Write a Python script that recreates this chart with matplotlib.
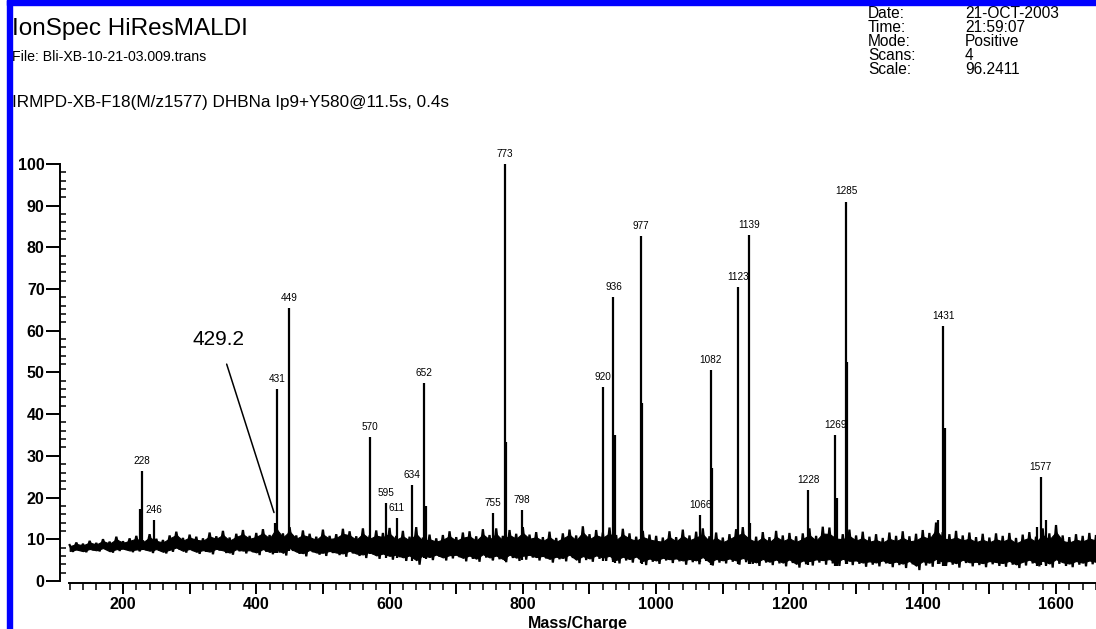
import matplotlib
matplotlib.use("Agg")
import matplotlib.pyplot as plt
import numpy as np
from matplotlib.ticker import FixedLocator, FuncFormatter
from matplotlib.patches import Rectangle

plt.rcParams['font.family'] = ['Liberation Sans', 'DejaVu Sans']

# labelled peaks (m/z, relative intensity %)
peak_mz = [228, 246, 431, 449, 570, 595, 611, 634, 652, 755, 773, 798,
           920, 936, 977, 1066, 1082, 1123, 1139, 1228, 1269, 1285, 1431, 1577]
peak_int = [26.4, 14.6, 46.0, 65.4, 34.5, 18.8, 15.0, 22.9, 47.5, 16.4, 100.0, 17.0,
            46.6, 68.2, 82.8, 15.8, 50.6, 70.6, 83.0, 21.7, 35.0, 91.0, 61.2, 24.9]

# unlabelled isotope shoulders / small spikes
side_mz = [226, 428, 654, 775, 938, 979, 1084, 1141, 1271, 1287, 1423, 1433, 1572, 1585]
side_int = [17.3, 14.0, 18.0, 33.4, 35.0, 42.7, 27.0, 14.0, 20.0, 52.6, 14.5, 36.7, 13.0, 14.5]

# noise band, every 10 m/z from 120 to 1660
noise_mz = list(range(120, 1661, 10))
noise_hi = [8.6, 9.2, 8.9, 9.6, 9.1, 10.0, 9.4, 10.6, 9.5, 10.2,
            10.8, 9.7, 11.2, 10.1, 9.8, 10.9, 11.8, 10.3, 11.1, 10.6,
            10.2, 11.6, 10.7, 12.0, 10.4, 11.3, 12.2, 10.8, 11.5, 12.4,
            11.0, 13.8, 11.4, 12.9, 10.9, 12.1, 11.3, 10.6, 12.3, 10.8,
            11.2, 12.5, 11.9, 10.7, 12.6, 10.9, 12.1, 11.5, 12.7, 10.8,
            12.0, 10.6, 12.9, 10.4, 11.1, 10.2, 11.0, 11.9, 10.5, 11.6,
            11.9, 10.7, 12.4, 11.0, 12.6, 10.8, 12.2, 11.3, 12.9, 11.1,
            11.7, 10.5, 11.8, 10.3, 11.4, 12.3, 10.9, 13.1, 11.2, 12.2,
            11.6, 12.8, 11.0, 12.5, 11.4, 10.6, 12.0, 11.1, 10.8, 10.4,
            11.9, 10.5, 12.3, 10.9, 11.8, 12.6, 10.7, 11.6, 10.4, 11.2,
            12.4, 12.9, 11.3, 10.6, 11.7, 10.5, 12.0, 10.9, 11.5, 10.7,
            11.4, 12.6, 10.8, 13.0, 12.8, 11.6, 11.2, 12.3, 10.9, 11.8,
            10.6, 11.2, 10.3, 11.6, 10.8, 11.9, 10.7, 11.3, 12.2, 11.5,
            14.0, 11.7, 11.2, 12.0, 10.9, 11.6, 10.5, 11.3, 10.4, 11.4,
            10.8, 11.5, 10.3, 11.1, 11.7, 10.6, 12.6, 11.4, 13.4, 10.9,
            10.5, 11.2, 10.8, 11.5, 11.0]
noise_lo = [7.0, 7.3, 6.9, 7.4, 7.1, 7.6, 6.8, 7.2, 7.5, 6.9,
            7.1, 7.4, 6.7, 7.3, 6.6, 7.0, 7.5, 6.8, 7.2, 6.5,
            7.0, 6.4, 7.3, 6.7, 6.3, 7.1, 6.6, 6.9, 6.2, 7.0,
            6.4, 6.8, 6.1, 7.2, 6.5, 5.9, 6.9, 6.3, 6.0, 6.7,
            6.2, 5.8, 6.6, 6.0, 5.5, 6.4, 5.3, 5.9, 5.1, 5.7,
            4.8, 5.5, 3.9, 5.6, 5.0, 5.8, 4.9, 5.4, 5.7, 4.7,
            5.3, 4.6, 5.6, 4.9, 5.2, 4.5, 5.5, 4.8, 5.1, 5.6,
            4.9, 5.4, 4.4, 5.2, 4.7, 5.5, 4.3, 5.0, 4.6, 5.3,
            4.8, 5.1, 4.2, 4.9, 4.4, 5.2, 3.8, 4.6, 4.1, 4.9,
            4.3, 4.7, 3.9, 4.5, 4.0, 4.8, 3.7, 4.4, 4.2, 4.6,
            3.9, 4.5, 4.1, 3.6, 4.4, 3.8, 4.2, 3.5, 4.3, 3.2,
            4.0, 3.7, 4.4, 3.9, 4.2, 3.6, 4.5, 3.8, 4.1, 3.4,
            3.9, 3.5, 4.2, 3.3, 3.8, 3.1, 4.0, 2.6, 3.7, 3.4,
            4.1, 3.6, 3.9, 3.2, 4.3, 3.5, 3.8, 3.3, 4.0, 3.6,
            3.4, 3.9, 3.1, 3.7, 4.2, 3.5, 3.8, 3.2, 4.1, 3.6,
            3.3, 3.9, 3.5, 4.0, 3.7]

header_keys = ["Date:", "Time:", "Mode:", "Scans:", "Scale:"]
header_vals = ["21-OCT-2003", "21:59:07", "Positive", "4", "96.2411"]

fig = plt.figure(figsize=(10.96, 6.29), dpi=100)
ax = fig.add_axes([60 / 1096, 46 / 629, 1036 / 1096, 435.7 / 629])

# noise trace: zigzag between the read envelope, plus a solid core
mz = np.array(noise_mz, dtype=float)
hi = np.array(noise_hi)
lo = np.array(noise_lo)
zx = np.ravel(np.column_stack([mz, mz + 5]))
zy = np.ravel(np.column_stack([hi, lo]))
ax.plot(zx, zy, color='black', lw=1.6, solid_joinstyle='miter')
span = hi - lo
ax.fill_between(mz, lo + 0.12 * span, hi - 0.18 * span, color='black', lw=0.8,
                edgecolor='black')

# peaks
base = np.interp(peak_mz, mz, lo)
ax.vlines(peak_mz, base, peak_int, color='black', lw=1.6)
ax.vlines(side_mz, np.interp(side_mz, mz, lo), side_int, color='black', lw=1.6)
for m, h in zip(peak_mz, peak_int):
    ax.text(m, h + 1.2, str(m), ha='center', va='bottom', fontsize=7.2)

ax.annotate("429.2", xy=(426.6, 16.4), xytext=(344, 57.8), fontsize=15,
            ha='center', va='center',
            arrowprops=dict(arrowstyle='-', color='black', lw=1.1,
                            shrinkA=9, shrinkB=0))

ax.set_xlim(105.5, 1660)
ax.set_ylim(-0.5, 104)
for s in ['top', 'right']:
    ax.spines[s].set_visible(False)
ax.spines['left'].set_bounds(0, 100)
ax.spines['bottom'].set_bounds(119, 1660)
ax.spines['left'].set_linewidth(1.4)
ax.spines['bottom'].set_linewidth(1.4)

ax.set_yticks(range(0, 101, 10))
ax.yaxis.set_minor_locator(FixedLocator([v for v in range(0, 101, 2) if v % 10]))
ax.set_xticks(range(200, 1700, 100))
ax.xaxis.set_minor_locator(FixedLocator([v for v in range(120, 1661, 20) if v % 100]))
ax.xaxis.set_major_formatter(FuncFormatter(lambda v, p: f"{int(v)}" if int(v) % 200 == 0 else ""))
ax.tick_params(axis='y', which='major', length=10, width=1.4, direction='out', pad=1)
ax.tick_params(axis='y', which='minor', length=4, width=1.1, direction='in')
ax.tick_params(axis='x', which='major', length=8, width=1.4, direction='out', pad=2)
ax.tick_params(axis='x', which='minor', length=5, width=1.1, direction='out')
for lab in ax.get_xticklabels() + ax.get_yticklabels():
    lab.set_fontsize(11.5)
    lab.set_fontweight('bold')
ax.set_xlabel("Mass/Charge", fontsize=11.5, fontweight='bold', labelpad=3)

# header texts
fig.text(12 / 1096, 1 - 29 / 629, "IonSpec HiResMALDI", fontsize=17.5, va='center')
fig.text(12 / 1096, 1 - 57 / 629, "File: Bli-XB-10-21-03.009.trans", fontsize=10.2, va='center')
fig.text(12 / 1096, 1 - 102 / 629, "IRMPD-XB-F18(M/z1577) DHBNa Ip9+Y580@11.5s, 0.4s",
         fontsize=12.3, va='center')
for i, (k, v) in enumerate(zip(header_keys, header_vals)):
    y = 1 - (14 + 13.8 * i) / 629
    fig.text(868 / 1096, y, k, fontsize=11.2, va='center')
    fig.text(965 / 1096, y, v, fontsize=11.2, va='center')

# blue frame
fig.patches.append(Rectangle((7 / 1096, 0), 5 / 1096, 1, transform=fig.transFigure,
                             color='#0000ff', zorder=5))
fig.patches.append(Rectangle((7 / 1096, 1 - 5 / 629), 1 - 7 / 1096, 5 / 629,
                             transform=fig.transFigure, color='#0000ff', zorder=5))

fig.savefig("out.png", dpi=100)
